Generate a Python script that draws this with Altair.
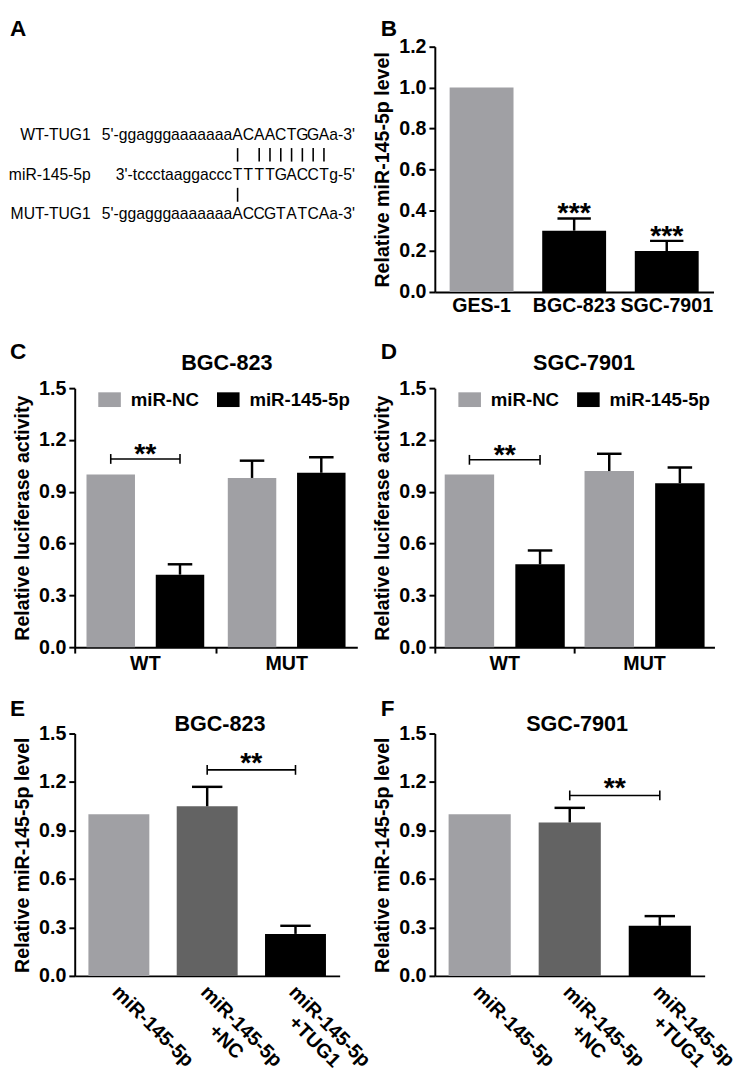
import altair as alt
import pandas as pd

FONT = "Liberation Sans"
GRAY = "#A0A0A4"
DARK = "#636363"
BLACK = "#000000"

# ---------------- data ----------------
# Panel A: sequence alignment
a_names = ["WT-TUG1", "miR-145-5p", "MUT-TUG1"]
a_prefix = ["5'-ggagggaaaaaaa", "3'-tccctaaggaccc", "5'-ggagggaaaaaaa"]
a_core = ["ACAACTGGA", "TTTTGACCT", "ACCGTATCA"]
a_suffix = ["a-3'", "g-5'", "a-3'"]
a_pairs_upper = [0, 2, 3, 4, 5, 6, 7, 8]
a_pairs_lower = [0]

# Panel B
b_cats = ["GES-1", "BGC-823", "SGC-7901"]
b_means = [1.00, 0.30, 0.20]
b_upper = [None, 0.36, 0.25]
b_marks = ["", "***", "***"]

# Panels C / D
cd_groups = ["WT", "WT", "MUT", "MUT"]
cd_series = ["miR-NC", "miR-145-5p", "miR-NC", "miR-145-5p"]
c_means = [1.00, 0.42, 0.98, 1.01]
c_upper = [None, 0.48, 1.08, 1.10]
c_bracket = 1.09
d_means = [1.00, 0.48, 1.02, 0.95]
d_upper = [None, 0.56, 1.12, 1.04]
d_bracket = 1.085

# Panels E / F
ef_cats = ["miR-145-5p", "miR-145-5p+NC", "miR-145-5p+TUG1"]
ef_labels = ["miR-145-5p", "miR-145-5p\n+NC", "miR-145-5p\n+TUG1"]
e_means = [1.00, 1.05, 0.26]
e_upper = [None, 1.17, 0.31]
e_bracket = 1.275
f_means = [1.00, 0.95, 0.31]
f_upper = [None, 1.04, 0.37]
f_bracket = 1.117


# ---------------- helpers ----------------
def letter(ch, x, y):
    return alt.Chart(pd.DataFrame({"t": [ch]})).mark_text(
        align="left", baseline="top", font=FONT, fontSize=23,
        fontWeight="bold", color="black"
    ).encode(text="t:N", x=alt.value(x), y=alt.value(y))


def heading(txt, x, y):
    return alt.Chart(pd.DataFrame({"t": [txt]})).mark_text(
        align="center", baseline="middle", font=FONT, fontSize=22,
        fontWeight="bold", color="black"
    ).encode(text="t:N", x=alt.value(x), y=alt.value(y))


def yenc(field, top, step, title):
    n = int(round(top / step))
    vals = [round(i * step, 2) for i in range(n + 1)]
    return alt.Y(field, type="quantitative",
                 scale=alt.Scale(domain=[0, top], nice=False, zero=True),
                 axis=alt.Axis(values=vals, format=".1f", title=title))


def star_text(size=29):
    return dict(align="center", baseline="alphabetic", dy=4, font=FONT,
                fontSize=size, fontWeight="bold", color="black")


# ---------------- panel A ----------------
def panel_a():
    W, H = 288, 260
    xs = alt.Scale(domain=[-15.09, 11.09])
    ys = alt.Scale(domain=[-2.222, 4.198], reverse=True)
    n = len(a_core[0])
    rows = pd.DataFrame({
        "row": list(range(3)),
        "name": a_names,
        "pre": a_prefix,
        "suf": a_suffix,
        "namex": [-13.6] * 3,
        "prex": [-0.5] * 3,
        "sufx": [n - 0.5] * 3,
    })
    chars = pd.DataFrame([
        {"row": r, "pos": i, "ch": c}
        for r, s in enumerate(a_core) for i, c in enumerate(s)
    ])
    pairs = pd.DataFrame(
        [{"pos": p, "y1": 0.33, "y2": 0.67} for p in a_pairs_upper]
        + [{"pos": p, "y1": 1.33, "y2": 1.68} for p in a_pairs_lower]
    )
    txt = dict(font=FONT, fontSize=16, color="black", baseline="middle")
    Yr = alt.Y("row:Q", scale=ys, axis=None)
    names = alt.Chart(rows).mark_text(align="right", **txt).encode(
        x=alt.X("namex:Q", scale=xs, axis=None), y=Yr, text="name:N")
    pre = alt.Chart(rows).mark_text(align="right", **txt).encode(
        x=alt.X("prex:Q", scale=xs, axis=None), y=Yr, text="pre:N")
    suf = alt.Chart(rows).mark_text(align="left", **txt).encode(
        x=alt.X("sufx:Q", scale=xs, axis=None), y=Yr, text="suf:N")
    core = alt.Chart(chars).mark_text(align="center", **txt).encode(
        x=alt.X("pos:Q", scale=xs, axis=None), y=Yr, text="ch:N")
    lines = alt.Chart(pairs).mark_rule(color="black", strokeWidth=1.6).encode(
        x=alt.X("pos:Q", scale=xs, axis=None),
        y=alt.Y("y1:Q", scale=ys, axis=None), y2="y2:Q")
    return alt.layer(names, pre, suf, core, lines, letter("A", -66, -29)).properties(
        width=W, height=H)


# ---------------- panel B ----------------
def panel_b():
    df = pd.DataFrame({"cat": b_cats, "val": b_means})
    de = pd.DataFrame({"cat": b_cats, "val": b_means, "up": b_upper,
                       "sig": b_marks}).dropna()
    X = alt.X("cat:N", sort=b_cats,
              scale=alt.Scale(paddingInner=0.31, paddingOuter=0.16),
              axis=alt.Axis(title=None, labelAngle=0, ticks=False, labelPadding=4))

    def Y(f):
        return yenc(f, 1.2, 0.2, "Relative miR-145-5p level")

    bars = alt.Chart(df).mark_bar(opacity=1).encode(
        x=X, y=Y("val"),
        color=alt.Color("cat:N", scale=alt.Scale(domain=b_cats, range=[GRAY, BLACK, BLACK]),
                        legend=None))
    stems = alt.Chart(de).mark_rule(strokeWidth=2.5, color="black").encode(
        x=X, y=Y("val"), y2="up:Q")
    caps = alt.Chart(de).mark_tick(orient="horizontal", size=34, thickness=2.5,
                                   color="black", opacity=1).encode(x=X, y=Y("up"))
    stars = alt.Chart(de).mark_text(**star_text()).encode(x=X, y=Y("up"), text="sig:N")
    return alt.layer(bars, stems, caps, stars, letter("B", -55, -29)).properties(
        width=284, height=250)


# ---------------- panels C / D ----------------
def panel_cd(means, upper, bracket, head, let, width, po, head_x, let_x):
    pi = 0.3
    step_o = (width / 2) / (2 - pi + 2 * po)
    df = pd.DataFrame({"grp": cd_groups, "ser": cd_series, "val": means})
    de = pd.DataFrame({"grp": cd_groups, "ser": cd_series, "val": means,
                       "up": upper}).dropna()
    X = alt.X("grp:N", sort=["WT", "MUT"],
              scale=alt.Scale(paddingInner=0, paddingOuter=0),
              axis=alt.Axis(title=None, labelAngle=0, bandPosition=0, labelPadding=1))
    XO = alt.XOffset("ser:N", sort=["miR-NC", "miR-145-5p"],
                     scale=alt.Scale(paddingInner=pi, paddingOuter=po))

    def Y(f):
        return yenc(f, 1.5, 0.3, "Relative luciferase activity")

    bars = alt.Chart(df).mark_bar(opacity=1).encode(
        x=X, xOffset=XO, y=Y("val"),
        color=alt.Color("ser:N", sort=["miR-NC", "miR-145-5p"],
                        scale=alt.Scale(domain=["miR-NC", "miR-145-5p"], range=[GRAY, BLACK]),
                        legend=alt.Legend(
                            title=None, orient="none", legendX=24, legendY=0,
                            direction="horizontal",
                            symbolType="M-1,-0.652H1V0.652H-1Z", symbolSize=529,
                            symbolStrokeWidth=0, symbolOpacity=1,
                            labelFont=FONT, labelFontSize=19, labelFontWeight="bold",
                            labelColor="black", labelOffset=10, columnPadding=18)))
    stems = alt.Chart(de).mark_rule(strokeWidth=2.5, color="black").encode(
        x=X, xOffset=XO, y=Y("val"), y2="up:Q")
    caps = alt.Chart(de).mark_tick(orient="horizontal", size=25, thickness=2.5,
                                   color="black", opacity=1).encode(
        x=X, xOffset=XO, y=Y("up"))
    br = pd.DataFrame({"grp": ["WT", "WT"], "ser": ["miR-NC", "miR-145-5p"],
                       "b": [bracket, bracket], "sig": ["**", "**"]})
    br_line = alt.Chart(br.iloc[:1]).mark_tick(
        orient="horizontal", size=step_o, thickness=1.6, color="black", opacity=1
    ).encode(x=X, y=Y("b"))
    br_ends = alt.Chart(br).mark_tick(
        orient="vertical", size=10, thickness=1.6, color="black", opacity=1
    ).encode(x=X, xOffset=XO, y=Y("b"))
    stars = alt.Chart(br.iloc[:1]).mark_text(**star_text()).encode(
        x=X, y=Y("b"), text="sig:N")
    return alt.layer(bars, stems, caps, br_line, br_ends, stars,
                     heading(head, head_x, -25), letter(let, let_x, -48)).properties(
        width=width, height=264)


# ---------------- panels E / F ----------------
def panel_ef(means, upper, bracket, head, let, width, po, head_x, let_x):
    pi = 0.31
    step = width / (3 - pi + 2 * po)
    df = pd.DataFrame({"cat": ef_cats, "val": means, "lab": ef_labels,
                       "zero": [0.0] * 3})
    de = pd.DataFrame({"cat": ef_cats, "val": means, "up": upper}).dropna()
    X = alt.X("cat:N", sort=ef_cats,
              scale=alt.Scale(paddingInner=pi, paddingOuter=po),
              axis=alt.Axis(title=None, labels=False, ticks=False))

    def Y(f):
        return yenc(f, 1.5, 0.3, "Relative miR-145-5p level")

    bars = alt.Chart(df).mark_bar(opacity=1).encode(
        x=X, y=Y("val"),
        color=alt.Color("cat:N", scale=alt.Scale(domain=ef_cats, range=[GRAY, DARK, BLACK]),
                        legend=None))
    stems = alt.Chart(de).mark_rule(strokeWidth=2.5, color="black").encode(
        x=X, y=Y("val"), y2="up:Q")
    caps = alt.Chart(de).mark_tick(orient="horizontal", size=31, thickness=2.5,
                                   color="black", opacity=1).encode(x=X, y=Y("up"))
    labels = alt.Chart(df).mark_text(
        angle=45, align="center", baseline="top", lineBreak="\n", dx=61, dy=2,
        font=FONT, fontSize=20, fontWeight="bold", color="black"
    ).encode(x=X, y=Y("zero"), text="lab:N")
    br = pd.DataFrame({"cat": ef_cats[1:], "b": [bracket, bracket], "sig": ["**", "**"]})
    br_line = alt.Chart(br).mark_line(color="black", strokeWidth=1.6).encode(
        x=X, y=Y("b"))
    br_ends = alt.Chart(br).mark_tick(orient="vertical", size=10, thickness=1.6,
                                      color="black", opacity=1).encode(x=X, y=Y("b"))
    st = star_text()
    st["dx"] = step / 2
    st["dy"] = 2
    stars = alt.Chart(br.iloc[:1]).mark_text(**st).encode(x=X, y=Y("b"), text="sig:N")
    return alt.layer(bars, stems, caps, labels, br_line, br_ends, stars,
                     heading(head, head_x, -10), letter(let, let_x, -36)).properties(
        width=width, height=247)


panels = [
    panel_a(),
    panel_b(),
    panel_cd(c_means, c_upper, c_bracket, "BGC-823", "C", 288, 0.17, 155, -66),
    panel_cd(d_means, d_upper, d_bracket, "SGC-7901", "D", 285, 0.14, 152, -55),
    panel_ef(e_means, e_upper, e_bracket, "BGC-823", "E", 270, 0.155, 148, -66),
    panel_ef(f_means, f_upper, f_bracket, "SGC-7901", "F", 275, 0.153, 145, -55),
]

chart = alt.concat(
    *panels, columns=2, bounds="flush",
    spacing=alt.RowColnumber(row=88, column=79), padding=0
).resolve_scale(
    color="independent", x="independent", y="independent", xOffset="independent"
).configure_axis(
    labelFont=FONT, titleFont=FONT, labelFontSize=20, titleFontSize=20,
    labelFontWeight="bold", titleFontWeight="bold", labelColor="black",
    titleColor="black", domainColor="black", tickColor="black",
    domainWidth=2, tickWidth=2, tickSize=6, labelPadding=3, titlePadding=6,
    grid=False
).configure_view(stroke=None)

chart.save("out.html", embed_options={"renderer": "svg", "actions": False})
